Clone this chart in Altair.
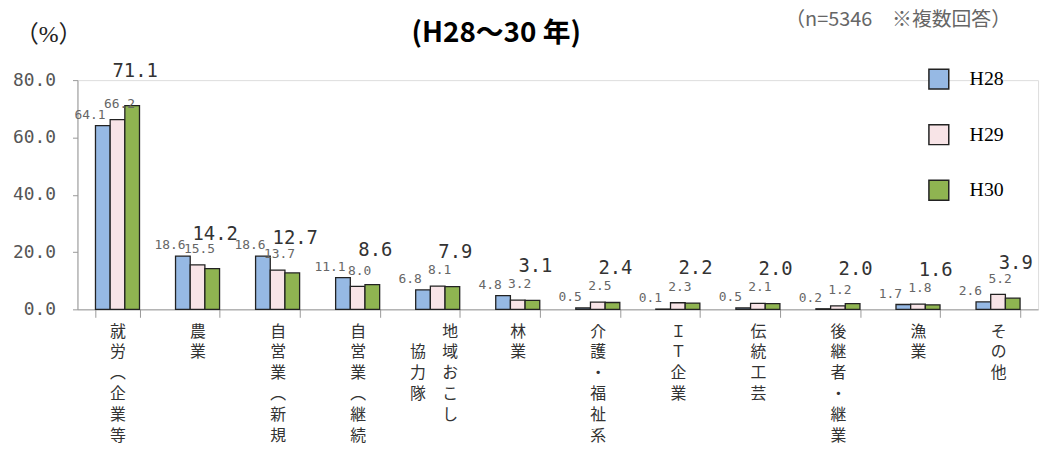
import json
import altair as alt
import pandas as pd

# ---- data -------------------------------------------------------------
categories = ["就労(企業等)", "農業", "自営業(新規)", "自営業(継続)", "地域おこし協力隊",
              "林業", "介護・福祉系", "IT企業", "伝統工芸", "後継者・継業", "漁業", "その他"]
# vertical (tategaki) axis label lines for each category (right-hand column)
category_lines = [
    ["就", "労", "︵", "企", "業", "等", "︶"],
    ["農", "業"],
    ["自", "営", "業", "︵", "新", "規", "︶"],
    ["自", "営", "業", "︵", "継", "続", "︶"],
    ["地", "域", "お", "こ", "し"],
    ["林", "業"],
    ["介", "護", "・", "福", "祉", "系"],
    ["Ｉ", "Ｔ", "企", "業"],
    ["伝", "統", "工", "芸"],
    ["後", "継", "者", "・", "継", "業"],
    ["漁", "業"],
    ["そ", "の", "他"],
]
two_column_category = "地域おこし協力隊"
second_column_lines = ["協", "力", "隊"]
years = ["H28", "H29", "H30"]
h28 = [64.1, 18.6, 18.6, 11.1, 6.8, 4.8, 0.5, 0.1, 0.5, 0.2, 1.7, 2.6]
h29 = [66.2, 15.5, 13.7, 8.0, 8.1, 3.2, 2.5, 2.3, 2.1, 1.2, 1.8, 5.2]
h30 = [71.1, 14.2, 12.7, 8.6, 7.9, 3.1, 2.4, 2.2, 2.0, 2.0, 1.6, 3.9]
year_colors = ["#96b9e4", "#f8e4e7", "#8fb451"]
y_ticks = [0, 20, 40, 60, 80]

title_text = "(H28～30 年)"
unit_text = "（%）"
note_text = "（n=5346　※複数回答）"

# ---- table ------------------------------------------------------------
rows = []
for yr, vals in zip(years, [h28, h29, h30]):
    for c, v in zip(categories, vals):
        rows.append({"category": c, "year": yr, "value": v, "label": f"{v:.1f}"})
df = pd.DataFrame(rows)

label_map = json.dumps(dict(zip(categories, category_lines)), ensure_ascii=False)

PLOT_W, PLOT_H = 968, 231
LABEL_PAD = 6
TICK = 8

x_enc = alt.X("category:N", sort=categories,
              scale=alt.Scale(paddingInner=0.45, paddingOuter=0.225),
              axis=alt.Axis(title=None, labelAngle=0, labelExpr=f"{label_map}[datum.value]",
                            labelFont="Noto Sans CJK JP", labelFontSize=16, labelColor="#333",
                            labelLineHeight=21, labelBaseline="top", labelPadding=LABEL_PAD,
                            labelOffset={"condition": {"test": f"datum.value == '{two_column_category}'",
                                                       "value": 12}, "value": 0},
                            labelOverlap=False, tickBand="extent", tickSize=TICK,
                            tickColor="#999", domainColor="#999", grid=False))
xo_enc = alt.XOffset("year:N", sort=years)
y_enc = alt.Y("value:Q", scale=alt.Scale(domain=[0, 80], nice=False),
              axis=alt.Axis(title=None, values=y_ticks, format=".1f", grid=False,
                            labelFont="DejaVu Sans Mono", labelFontSize=18, labelColor="#555",
                            labelPadding=17, tickSize=5, tickColor="#999", domainColor="#999"))

base = alt.Chart(df)

bars = base.mark_bar(stroke="#222", strokeWidth=1.3).encode(
    x=x_enc, xOffset=xo_enc, y=y_enc,
    color=alt.Color("year:N", sort=years,
                    scale=alt.Scale(domain=years, range=year_colors),
                    legend=alt.Legend(title=None, orient="none", legendX=857, legendY=-12,
                                      direction="vertical", symbolType="square",
                                      symbolSize=400, symbolStrokeColor="#222",
                                      symbolStrokeWidth=1.5, labelFont="Liberation Serif",
                                      labelFontSize=20, labelColor="#000", rowPadding=30,
                                      labelOffset=20, padding=0)),
)

lab28 = base.transform_filter(alt.datum.year == "H28").mark_text(
    dx=-13, dy=-11, baseline="middle", align="center",
    font="DejaVu Sans Mono", fontSize=13, color="#666").encode(
    x=x_enc, xOffset=xo_enc, y=y_enc, text="label:N")
lab29 = base.transform_filter(alt.datum.year == "H29").mark_text(
    dx=2, dy=-16, baseline="middle", align="center",
    font="DejaVu Sans Mono", fontSize=13, color="#666").encode(
    x=x_enc, xOffset=xo_enc, y=y_enc, text="label:N")
lab30 = base.transform_filter(alt.datum.year == "H30").mark_text(
    dx=3, dy=-35, baseline="middle", align="center",
    font="DejaVu Sans Mono", fontSize=19, color="#333").encode(
    x=x_enc, xOffset=xo_enc, y=y_enc, text="label:N")

# left-hand column of the two-column vertical label
second_col = base.transform_filter(
    (alt.datum.category == two_column_category) & (alt.datum.year == "H28")
).mark_text(text=second_column_lines, dx=-20, dy=21, align="center", baseline="top",
            lineHeight=21, font="Noto Sans CJK JP", fontSize=16, color="#333").encode(
    x=x_enc, y=alt.value(PLOT_H + TICK + LABEL_PAD))

title_mark = alt.Chart(pd.DataFrame({"t": [title_text]})).mark_text(
    font="Liberation Sans Narrow, Noto Sans CJK JP", fontWeight="bold", fontSize=28,
    color="#000", align="center", baseline="middle").encode(
    x=alt.value(422), y=alt.value(-46), text="t:N")
unit_mark = alt.Chart(pd.DataFrame({"t": [unit_text]})).mark_text(
    font="Liberation Serif, Noto Sans CJK JP", fontSize=24, color="#222",
    align="center", baseline="middle").encode(
    x=alt.value(-29), y=alt.value(-45), text="t:N")
note_mark = alt.Chart(pd.DataFrame({"t": [note_text]})).mark_text(
    font="Noto Sans CJK JP", fontSize=20, color="#666",
    align="center", baseline="middle").encode(
    x=alt.value(827), y=alt.value(-61), text="t:N")

chart = alt.layer(bars, lab28, lab29, lab30, second_col, title_mark, unit_mark, note_mark).properties(
    width=PLOT_W, height=PLOT_H, autosize="none",
    padding={"left": 70, "top": 71, "right": 10, "bottom": 134},
).configure_view(stroke=None).configure(background="white")

chart.save("out.html", embed_options={"renderer": "svg", "actions": False})
